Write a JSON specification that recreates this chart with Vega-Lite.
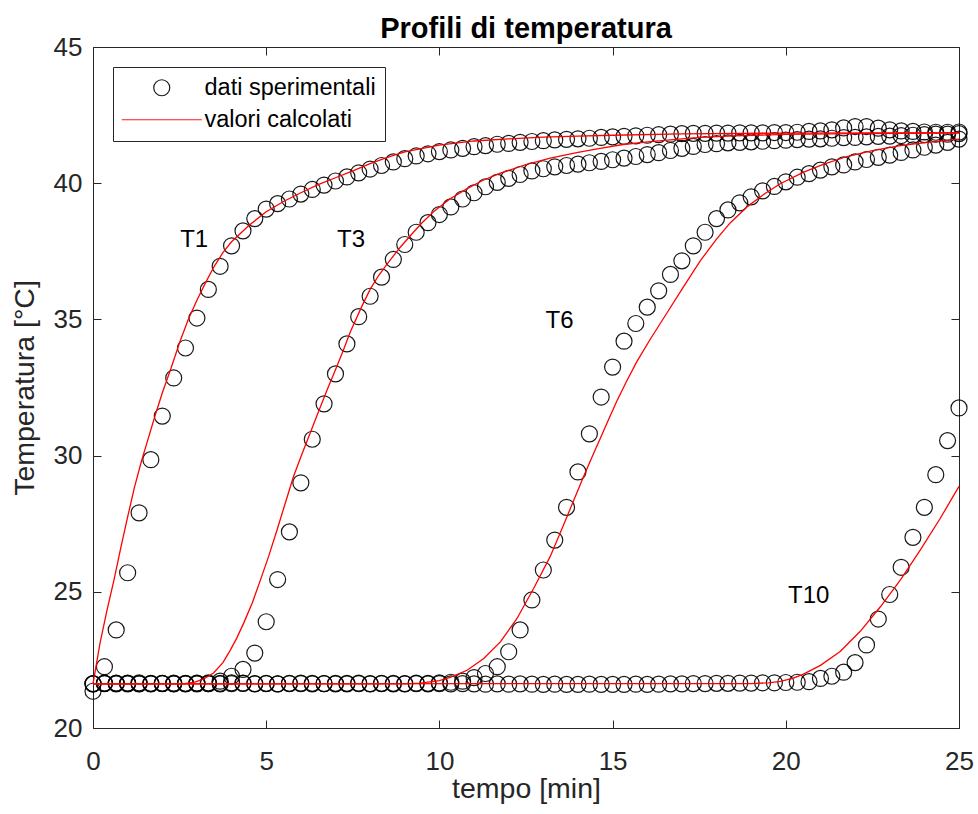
{
  "$schema": "https://vega.github.io/schema/vega-lite/v6.json",
  "width": 866,
  "height": 681,
  "autosize": "none",
  "padding": {"left": 93, "top": 47, "right": 19, "bottom": 86},
  "background": "white",
  "title": {"text": "Profili di temperatura", "font": "Liberation Sans", "fontSize": 29, "fontWeight": "bold", "color": "#000000", "offset": 10, "dy": 20, "anchor": "middle", "frame": "group"},
  "config": {
    "view": {"stroke": null},
    "axis": {"grid": false, "domainColor": "#262626", "tickColor": "#262626", "labelColor": "#262626", "titleColor": "#262626", "labelFont": "Liberation Sans", "titleFont": "Liberation Sans", "labelFontSize": 26, "titleFontSize": 28.5, "titleFontWeight": "normal", "domainWidth": 1, "tickWidth": 1, "labelFlush": false, "labelOverlap": false},
    "legend": {"orient": "none", "legendX": 20, "legendY": 20, "strokeColor": "#262626", "fillColor": "white", "padding": 9, "rowPadding": 7, "labelFont": "Liberation Sans", "labelFontSize": 23.5, "labelColor": "#000000", "symbolSize": 256, "symbolStrokeWidth": 1.2, "symbolOffset": 28, "labelOffset": 31, "symbolFillColor": "transparent", "labelLimit": 400}
  },
  "datasets": {
    "dati": [
      {"s":"T1","t":0,"v":21.35},{"s":"T1","t":0.33,"v":22.25},{"s":"T1","t":0.67,"v":23.6},{"s":"T1","t":1,"v":25.7},{"s":"T1","t":1.33,"v":27.9},{"s":"T1","t":1.67,"v":29.85},{"s":"T1","t":2,"v":31.45},{"s":"T1","t":2.33,"v":32.85},{"s":"T1","t":2.67,"v":33.95},{"s":"T1","t":3,"v":35.05},{"s":"T1","t":3.33,"v":36.1},{"s":"T1","t":3.67,"v":36.95},{"s":"T1","t":4,"v":37.7},{"s":"T1","t":4.33,"v":38.25},{"s":"T1","t":4.67,"v":38.7},{"s":"T1","t":5,"v":39.05},{"s":"T1","t":5.33,"v":39.25},{"s":"T1","t":5.67,"v":39.42},{"s":"T1","t":6,"v":39.6},{"s":"T1","t":6.33,"v":39.77},{"s":"T1","t":6.67,"v":39.93},{"s":"T1","t":7,"v":40.08},{"s":"T1","t":7.33,"v":40.23},{"s":"T1","t":7.67,"v":40.38},{"s":"T1","t":8,"v":40.52},{"s":"T1","t":8.33,"v":40.65},{"s":"T1","t":8.67,"v":40.78},{"s":"T1","t":9,"v":40.9},{"s":"T1","t":9.33,"v":41.0},{"s":"T1","t":9.67,"v":41.08},{"s":"T1","t":10,"v":41.16},{"s":"T1","t":10.33,"v":41.22},{"s":"T1","t":10.67,"v":41.28},{"s":"T1","t":11,"v":41.34},{"s":"T1","t":11.33,"v":41.38},{"s":"T1","t":11.67,"v":41.43},{"s":"T1","t":12,"v":41.46},{"s":"T1","t":12.33,"v":41.5},{"s":"T1","t":12.67,"v":41.53},{"s":"T1","t":13,"v":41.56},{"s":"T1","t":13.33,"v":41.59},{"s":"T1","t":13.67,"v":41.61},{"s":"T1","t":14,"v":41.63},{"s":"T1","t":14.33,"v":41.65},{"s":"T1","t":14.67,"v":41.68},{"s":"T1","t":15,"v":41.7},{"s":"T1","t":15.33,"v":41.72},{"s":"T1","t":15.67,"v":41.74},{"s":"T1","t":16,"v":41.76},{"s":"T1","t":16.33,"v":41.78},{"s":"T1","t":16.67,"v":41.8},{"s":"T1","t":17,"v":41.82},{"s":"T1","t":17.33,"v":41.83},{"s":"T1","t":17.67,"v":41.83},{"s":"T1","t":18,"v":41.84},{"s":"T1","t":18.33,"v":41.84},{"s":"T1","t":18.67,"v":41.85},{"s":"T1","t":19,"v":41.85},{"s":"T1","t":19.33,"v":41.85},{"s":"T1","t":19.67,"v":41.86},{"s":"T1","t":20,"v":41.86},{"s":"T1","t":20.33,"v":41.87},{"s":"T1","t":20.67,"v":41.9},{"s":"T1","t":21,"v":41.92},{"s":"T1","t":21.33,"v":41.96},{"s":"T1","t":21.67,"v":42.03},{"s":"T1","t":22,"v":42.08},{"s":"T1","t":22.33,"v":42.08},{"s":"T1","t":22.67,"v":42.02},{"s":"T1","t":23,"v":41.96},{"s":"T1","t":23.33,"v":41.92},{"s":"T1","t":23.67,"v":41.9},{"s":"T1","t":24,"v":41.88},{"s":"T1","t":24.33,"v":41.87},{"s":"T1","t":24.67,"v":41.87},{"s":"T1","t":25,"v":41.88},
      {"s":"T3","t":0,"v":21.62},{"s":"T3","t":0.33,"v":21.64},{"s":"T3","t":0.67,"v":21.62},{"s":"T3","t":1,"v":21.65},{"s":"T3","t":1.33,"v":21.63},{"s":"T3","t":1.67,"v":21.62},{"s":"T3","t":2,"v":21.64},{"s":"T3","t":2.33,"v":21.63},{"s":"T3","t":2.67,"v":21.62},{"s":"T3","t":3,"v":21.65},{"s":"T3","t":3.33,"v":21.66},{"s":"T3","t":3.67,"v":21.72},{"s":"T3","t":4,"v":21.9},{"s":"T3","t":4.33,"v":22.15},{"s":"T3","t":4.67,"v":22.75},{"s":"T3","t":5,"v":23.9},{"s":"T3","t":5.33,"v":25.45},{"s":"T3","t":5.67,"v":27.2},{"s":"T3","t":6,"v":29.0},{"s":"T3","t":6.33,"v":30.6},{"s":"T3","t":6.67,"v":31.9},{"s":"T3","t":7,"v":33.0},{"s":"T3","t":7.33,"v":34.1},{"s":"T3","t":7.67,"v":35.1},{"s":"T3","t":8,"v":35.85},{"s":"T3","t":8.33,"v":36.55},{"s":"T3","t":8.67,"v":37.2},{"s":"T3","t":9,"v":37.75},{"s":"T3","t":9.33,"v":38.2},{"s":"T3","t":9.67,"v":38.55},{"s":"T3","t":10,"v":38.85},{"s":"T3","t":10.33,"v":39.13},{"s":"T3","t":10.67,"v":39.42},{"s":"T3","t":11,"v":39.65},{"s":"T3","t":11.33,"v":39.87},{"s":"T3","t":11.67,"v":40.03},{"s":"T3","t":12,"v":40.18},{"s":"T3","t":12.33,"v":40.32},{"s":"T3","t":12.67,"v":40.45},{"s":"T3","t":13,"v":40.53},{"s":"T3","t":13.33,"v":40.6},{"s":"T3","t":13.67,"v":40.65},{"s":"T3","t":14,"v":40.7},{"s":"T3","t":14.33,"v":40.75},{"s":"T3","t":14.67,"v":40.8},{"s":"T3","t":15,"v":40.86},{"s":"T3","t":15.33,"v":40.92},{"s":"T3","t":15.67,"v":40.98},{"s":"T3","t":16,"v":41.05},{"s":"T3","t":16.33,"v":41.12},{"s":"T3","t":16.67,"v":41.2},{"s":"T3","t":17,"v":41.28},{"s":"T3","t":17.33,"v":41.35},{"s":"T3","t":17.67,"v":41.42},{"s":"T3","t":18,"v":41.45},{"s":"T3","t":18.33,"v":41.48},{"s":"T3","t":18.67,"v":41.5},{"s":"T3","t":19,"v":41.52},{"s":"T3","t":19.33,"v":41.54},{"s":"T3","t":19.67,"v":41.56},{"s":"T3","t":20,"v":41.58},{"s":"T3","t":20.33,"v":41.6},{"s":"T3","t":20.67,"v":41.62},{"s":"T3","t":21,"v":41.63},{"s":"T3","t":21.33,"v":41.65},{"s":"T3","t":21.67,"v":41.67},{"s":"T3","t":22,"v":41.68},{"s":"T3","t":22.33,"v":41.7},{"s":"T3","t":22.67,"v":41.72},{"s":"T3","t":23,"v":41.73},{"s":"T3","t":23.33,"v":41.75},{"s":"T3","t":23.67,"v":41.76},{"s":"T3","t":24,"v":41.78},{"s":"T3","t":24.33,"v":41.8},{"s":"T3","t":24.67,"v":41.8},{"s":"T3","t":25,"v":41.82},
      {"s":"T6","t":0,"v":21.63},{"s":"T6","t":0.33,"v":21.65},{"s":"T6","t":0.67,"v":21.64},{"s":"T6","t":1,"v":21.62},{"s":"T6","t":1.33,"v":21.66},{"s":"T6","t":1.67,"v":21.64},{"s":"T6","t":2,"v":21.63},{"s":"T6","t":2.33,"v":21.65},{"s":"T6","t":2.67,"v":21.64},{"s":"T6","t":3,"v":21.62},{"s":"T6","t":3.33,"v":21.63},{"s":"T6","t":3.67,"v":21.64},{"s":"T6","t":4,"v":21.66},{"s":"T6","t":4.33,"v":21.65},{"s":"T6","t":4.67,"v":21.63},{"s":"T6","t":5,"v":21.64},{"s":"T6","t":5.33,"v":21.62},{"s":"T6","t":5.67,"v":21.63},{"s":"T6","t":6,"v":21.65},{"s":"T6","t":6.33,"v":21.64},{"s":"T6","t":6.67,"v":21.63},{"s":"T6","t":7,"v":21.62},{"s":"T6","t":7.33,"v":21.64},{"s":"T6","t":7.67,"v":21.65},{"s":"T6","t":8,"v":21.63},{"s":"T6","t":8.33,"v":21.64},{"s":"T6","t":8.67,"v":21.62},{"s":"T6","t":9,"v":21.63},{"s":"T6","t":9.33,"v":21.65},{"s":"T6","t":9.67,"v":21.64},{"s":"T6","t":10,"v":21.66},{"s":"T6","t":10.33,"v":21.68},{"s":"T6","t":10.67,"v":21.72},{"s":"T6","t":11,"v":21.85},{"s":"T6","t":11.33,"v":22.0},{"s":"T6","t":11.67,"v":22.25},{"s":"T6","t":12,"v":22.8},{"s":"T6","t":12.33,"v":23.6},{"s":"T6","t":12.67,"v":24.7},{"s":"T6","t":13,"v":25.8},{"s":"T6","t":13.33,"v":26.9},{"s":"T6","t":13.67,"v":28.1},{"s":"T6","t":14,"v":29.4},{"s":"T6","t":14.33,"v":30.8},{"s":"T6","t":14.67,"v":32.15},{"s":"T6","t":15,"v":33.25},{"s":"T6","t":15.33,"v":34.2},{"s":"T6","t":15.67,"v":34.85},{"s":"T6","t":16,"v":35.45},{"s":"T6","t":16.33,"v":36.05},{"s":"T6","t":16.67,"v":36.65},{"s":"T6","t":17,"v":37.15},{"s":"T6","t":17.33,"v":37.7},{"s":"T6","t":17.67,"v":38.2},{"s":"T6","t":18,"v":38.7},{"s":"T6","t":18.33,"v":39.02},{"s":"T6","t":18.67,"v":39.28},{"s":"T6","t":19,"v":39.5},{"s":"T6","t":19.33,"v":39.72},{"s":"T6","t":19.67,"v":39.88},{"s":"T6","t":20,"v":40.05},{"s":"T6","t":20.33,"v":40.22},{"s":"T6","t":20.67,"v":40.35},{"s":"T6","t":21,"v":40.48},{"s":"T6","t":21.33,"v":40.6},{"s":"T6","t":21.67,"v":40.67},{"s":"T6","t":22,"v":40.78},{"s":"T6","t":22.33,"v":40.87},{"s":"T6","t":22.67,"v":40.95},{"s":"T6","t":23,"v":41.03},{"s":"T6","t":23.33,"v":41.13},{"s":"T6","t":23.67,"v":41.22},{"s":"T6","t":24,"v":41.32},{"s":"T6","t":24.33,"v":41.4},{"s":"T6","t":24.67,"v":41.5},{"s":"T6","t":25,"v":41.62},
      {"s":"T10","t":0,"v":21.62},{"s":"T10","t":0.33,"v":21.63},{"s":"T10","t":0.67,"v":21.65},{"s":"T10","t":1,"v":21.64},{"s":"T10","t":1.33,"v":21.62},{"s":"T10","t":1.67,"v":21.63},{"s":"T10","t":2,"v":21.64},{"s":"T10","t":2.33,"v":21.62},{"s":"T10","t":2.67,"v":21.63},{"s":"T10","t":3,"v":21.64},{"s":"T10","t":3.33,"v":21.63},{"s":"T10","t":3.67,"v":21.62},{"s":"T10","t":4,"v":21.63},{"s":"T10","t":4.33,"v":21.64},{"s":"T10","t":4.67,"v":21.62},{"s":"T10","t":5,"v":21.63},{"s":"T10","t":5.33,"v":21.62},{"s":"T10","t":5.67,"v":21.64},{"s":"T10","t":6,"v":21.63},{"s":"T10","t":6.33,"v":21.62},{"s":"T10","t":6.67,"v":21.63},{"s":"T10","t":7,"v":21.64},{"s":"T10","t":7.33,"v":21.62},{"s":"T10","t":7.67,"v":21.63},{"s":"T10","t":8,"v":21.62},{"s":"T10","t":8.33,"v":21.63},{"s":"T10","t":8.67,"v":21.64},{"s":"T10","t":9,"v":21.62},{"s":"T10","t":9.33,"v":21.63},{"s":"T10","t":9.67,"v":21.62},{"s":"T10","t":10,"v":21.63},{"s":"T10","t":10.33,"v":21.62},{"s":"T10","t":10.67,"v":21.63},{"s":"T10","t":11,"v":21.62},{"s":"T10","t":11.33,"v":21.61},{"s":"T10","t":11.67,"v":21.62},{"s":"T10","t":12,"v":21.61},{"s":"T10","t":12.33,"v":21.62},{"s":"T10","t":12.67,"v":21.61},{"s":"T10","t":13,"v":21.6},{"s":"T10","t":13.33,"v":21.61},{"s":"T10","t":13.67,"v":21.6},{"s":"T10","t":14,"v":21.6},{"s":"T10","t":14.33,"v":21.61},{"s":"T10","t":14.67,"v":21.6},{"s":"T10","t":15,"v":21.6},{"s":"T10","t":15.33,"v":21.6},{"s":"T10","t":15.67,"v":21.61},{"s":"T10","t":16,"v":21.6},{"s":"T10","t":16.33,"v":21.61},{"s":"T10","t":16.67,"v":21.62},{"s":"T10","t":17,"v":21.62},{"s":"T10","t":17.33,"v":21.63},{"s":"T10","t":17.67,"v":21.63},{"s":"T10","t":18,"v":21.64},{"s":"T10","t":18.33,"v":21.64},{"s":"T10","t":18.67,"v":21.65},{"s":"T10","t":19,"v":21.65},{"s":"T10","t":19.33,"v":21.66},{"s":"T10","t":19.67,"v":21.66},{"s":"T10","t":20,"v":21.67},{"s":"T10","t":20.33,"v":21.68},{"s":"T10","t":20.67,"v":21.7},{"s":"T10","t":21,"v":21.82},{"s":"T10","t":21.33,"v":21.9},{"s":"T10","t":21.67,"v":22.05},{"s":"T10","t":22,"v":22.4},{"s":"T10","t":22.33,"v":23.05},{"s":"T10","t":22.67,"v":24.0},{"s":"T10","t":23,"v":24.9},{"s":"T10","t":23.33,"v":25.9},{"s":"T10","t":23.67,"v":27.0},{"s":"T10","t":24,"v":28.1},{"s":"T10","t":24.33,"v":29.3},{"s":"T10","t":24.67,"v":30.55},{"s":"T10","t":25,"v":31.75}
    ],
    "calc": [
      {"s":"T1","t":0,"v":21.62},{"s":"T1","t":0.2,"v":23.1},{"s":"T1","t":0.4,"v":24.3},{"s":"T1","t":0.6,"v":25.4},{"s":"T1","t":0.8,"v":26.6},{"s":"T1","t":1.0,"v":27.75},{"s":"T1","t":1.2,"v":28.85},{"s":"T1","t":1.4,"v":29.8},{"s":"T1","t":1.6,"v":30.65},{"s":"T1","t":1.8,"v":31.5},{"s":"T1","t":2.0,"v":32.3},{"s":"T1","t":2.25,"v":33.2},{"s":"T1","t":2.5,"v":34.15},{"s":"T1","t":2.75,"v":35.0},{"s":"T1","t":3.0,"v":35.7},{"s":"T1","t":3.25,"v":36.35},{"s":"T1","t":3.5,"v":36.95},{"s":"T1","t":3.75,"v":37.45},{"s":"T1","t":4.0,"v":37.85},{"s":"T1","t":4.5,"v":38.45},{"s":"T1","t":5.0,"v":38.95},{"s":"T1","t":5.5,"v":39.33},{"s":"T1","t":6.0,"v":39.65},{"s":"T1","t":6.5,"v":39.95},{"s":"T1","t":7.0,"v":40.2},{"s":"T1","t":7.5,"v":40.45},{"s":"T1","t":8.0,"v":40.72},{"s":"T1","t":8.5,"v":40.95},{"s":"T1","t":9.0,"v":41.15},{"s":"T1","t":10.0,"v":41.4},{"s":"T1","t":11.0,"v":41.55},{"s":"T1","t":12.0,"v":41.63},{"s":"T1","t":13.0,"v":41.69},{"s":"T1","t":14.0,"v":41.73},{"s":"T1","t":15.0,"v":41.76},{"s":"T1","t":17.0,"v":41.81},{"s":"T1","t":20.0,"v":41.84},{"s":"T1","t":25.0,"v":41.86},
      {"s":"T3","t":0,"v":21.62},{"s":"T3","t":2.6,"v":21.62},{"s":"T3","t":2.9,"v":21.67},{"s":"T3","t":3.2,"v":21.8},{"s":"T3","t":3.48,"v":22.02},{"s":"T3","t":3.75,"v":22.4},{"s":"T3","t":3.96,"v":22.85},{"s":"T3","t":4.15,"v":23.3},{"s":"T3","t":4.35,"v":23.85},{"s":"T3","t":4.6,"v":24.6},{"s":"T3","t":4.83,"v":25.42},{"s":"T3","t":5.07,"v":26.3},{"s":"T3","t":5.31,"v":27.26},{"s":"T3","t":5.55,"v":28.25},{"s":"T3","t":5.79,"v":29.24},{"s":"T3","t":6.03,"v":30.05},{"s":"T3","t":6.27,"v":30.83},{"s":"T3","t":6.52,"v":31.65},{"s":"T3","t":6.76,"v":32.42},{"s":"T3","t":7.0,"v":33.15},{"s":"T3","t":7.23,"v":33.88},{"s":"T3","t":7.43,"v":34.55},{"s":"T3","t":7.75,"v":35.45},{"s":"T3","t":8.0,"v":36.1},{"s":"T3","t":8.25,"v":36.62},{"s":"T3","t":8.5,"v":37.05},{"s":"T3","t":8.87,"v":37.65},{"s":"T3","t":9.25,"v":38.2},{"s":"T3","t":9.5,"v":38.55},{"s":"T3","t":9.83,"v":38.95},{"s":"T3","t":10.3,"v":39.42},{"s":"T3","t":10.8,"v":39.8},{"s":"T3","t":11.25,"v":40.1},{"s":"T3","t":11.76,"v":40.37},{"s":"T3","t":12.5,"v":40.68},{"s":"T3","t":13.2,"v":40.92},{"s":"T3","t":14.0,"v":41.13},{"s":"T3","t":14.64,"v":41.28},{"s":"T3","t":15.3,"v":41.42},{"s":"T3","t":16.09,"v":41.53},{"s":"T3","t":17.0,"v":41.63},{"s":"T3","t":17.53,"v":41.68},{"s":"T3","t":18.5,"v":41.74},{"s":"T3","t":20.0,"v":41.79},{"s":"T3","t":22.0,"v":41.82},{"s":"T3","t":25.0,"v":41.84},
      {"s":"T6","t":0,"v":21.62},{"s":"T6","t":9.0,"v":21.62},{"s":"T6","t":9.45,"v":21.65},{"s":"T6","t":10.0,"v":21.74},{"s":"T6","t":10.31,"v":21.86},{"s":"T6","t":10.8,"v":22.12},{"s":"T6","t":11.28,"v":22.55},{"s":"T6","t":11.76,"v":23.16},{"s":"T6","t":12.24,"v":24.02},{"s":"T6","t":12.72,"v":25.12},{"s":"T6","t":13.2,"v":26.3},{"s":"T6","t":13.68,"v":27.75},{"s":"T6","t":14.16,"v":29.22},{"s":"T6","t":14.4,"v":29.93},{"s":"T6","t":14.65,"v":30.65},{"s":"T6","t":14.9,"v":31.37},{"s":"T6","t":15.13,"v":32.02},{"s":"T6","t":15.4,"v":32.72},{"s":"T6","t":15.7,"v":33.45},{"s":"T6","t":16.1,"v":34.3},{"s":"T6","t":16.6,"v":35.3},{"s":"T6","t":17.05,"v":36.2},{"s":"T6","t":17.53,"v":37.15},{"s":"T6","t":18.0,"v":37.95},{"s":"T6","t":18.4,"v":38.55},{"s":"T6","t":18.9,"v":39.15},{"s":"T6","t":19.4,"v":39.62},{"s":"T6","t":19.84,"v":39.98},{"s":"T6","t":20.5,"v":40.4},{"s":"T6","t":21.1,"v":40.7},{"s":"T6","t":21.77,"v":40.98},{"s":"T6","t":22.5,"v":41.2},{"s":"T6","t":23.3,"v":41.38},{"s":"T6","t":24.1,"v":41.5},{"s":"T6","t":25.0,"v":41.62},
      {"s":"T10","t":0,"v":21.62},{"s":"T10","t":19.0,"v":21.63},{"s":"T10","t":19.5,"v":21.66},{"s":"T10","t":19.84,"v":21.71},{"s":"T10","t":20.2,"v":21.82},{"s":"T10","t":20.51,"v":21.98},{"s":"T10","t":21.0,"v":22.3},{"s":"T10","t":21.57,"v":22.81},{"s":"T10","t":22.15,"v":23.55},{"s":"T10","t":22.73,"v":24.45},{"s":"T10","t":23.31,"v":25.44},{"s":"T10","t":23.89,"v":26.55},{"s":"T10","t":24.46,"v":27.7},{"s":"T10","t":25.0,"v":28.87}
    ],
    "etichette": [
      {"t":2.92,"v":37.93,"lab":"T1"},
      {"t":7.45,"v":37.93,"lab":"T3"},
      {"t":13.47,"v":34.93,"lab":"T6"},
      {"t":20.66,"v":24.86,"lab":"T10"}
    ]
  },
  "layer": [
    {
      "data": {"name": "dati"},
      "mark": {"type": "point", "filled": false, "size": 256, "strokeWidth": 1.2, "opacity": 0.9},
      "encoding": {
        "x": {"field": "t", "type": "quantitative", "scale": {"domain": [0, 25], "nice": false, "zero": false},
              "axis": {"orient": "bottom", "values": [0, 5, 10, 15, 20, 25], "tickSize": -8, "labelPadding": 28, "title": "tempo [min]", "titlePadding": 0}},
        "y": {"field": "v", "type": "quantitative", "scale": {"domain": [20, 45], "nice": false, "zero": false},
              "axis": {"orient": "left", "values": [20, 25, 30, 35, 40, 45], "tickSize": -8, "labelPadding": 19, "title": "Temperatura [°C]", "titlePadding": 14}},
        "color": {"datum": "dati sperimentali", "type": "nominal", "scale": {"domain": ["dati sperimentali", "valori calcolati"], "range": ["#000000", "#ff0000"]}, "legend": {"title": null}},
        "shape": {"datum": "dati sperimentali", "type": "nominal", "scale": {"domain": ["dati sperimentali", "valori calcolati"], "range": ["circle", "M-5,0L5,0"]}, "legend": {"title": null}},
        "detail": {"field": "s"}
      }
    },
    {
      "data": {"name": "calc"},
      "mark": {"type": "line", "strokeWidth": 1.3},
      "encoding": {
        "x": {"field": "t", "type": "quantitative", "scale": {"domain": [0, 25], "nice": false, "zero": false},
              "axis": {"orient": "top", "values": [0, 5, 10, 15, 20, 25], "tickSize": -8, "labels": false, "title": null, "minExtent": 0, "maxExtent": 0}},
        "y": {"field": "v", "type": "quantitative", "scale": {"domain": [20, 45], "nice": false, "zero": false},
              "axis": {"orient": "right", "values": [20, 25, 30, 35, 40, 45], "tickSize": -8, "labels": false, "title": null, "minExtent": 0, "maxExtent": 0}},
        "color": {"datum": "valori calcolati", "type": "nominal", "legend": {"title": null}},
        "detail": {"field": "s"}
      }
    },
    {
      "data": {"name": "etichette"},
      "mark": {"type": "text", "font": "Liberation Sans", "fontSize": 24, "color": "#000000", "align": "center", "baseline": "middle"},
      "encoding": {
        "x": {"field": "t", "type": "quantitative", "scale": {"domain": [0, 25], "nice": false, "zero": false}, "axis": null},
        "y": {"field": "v", "type": "quantitative", "scale": {"domain": [20, 45], "nice": false, "zero": false}, "axis": null},
        "text": {"field": "lab"}
      }
    }
  ],
  "resolve": {"axis": {"x": "independent", "y": "independent"}}
}
